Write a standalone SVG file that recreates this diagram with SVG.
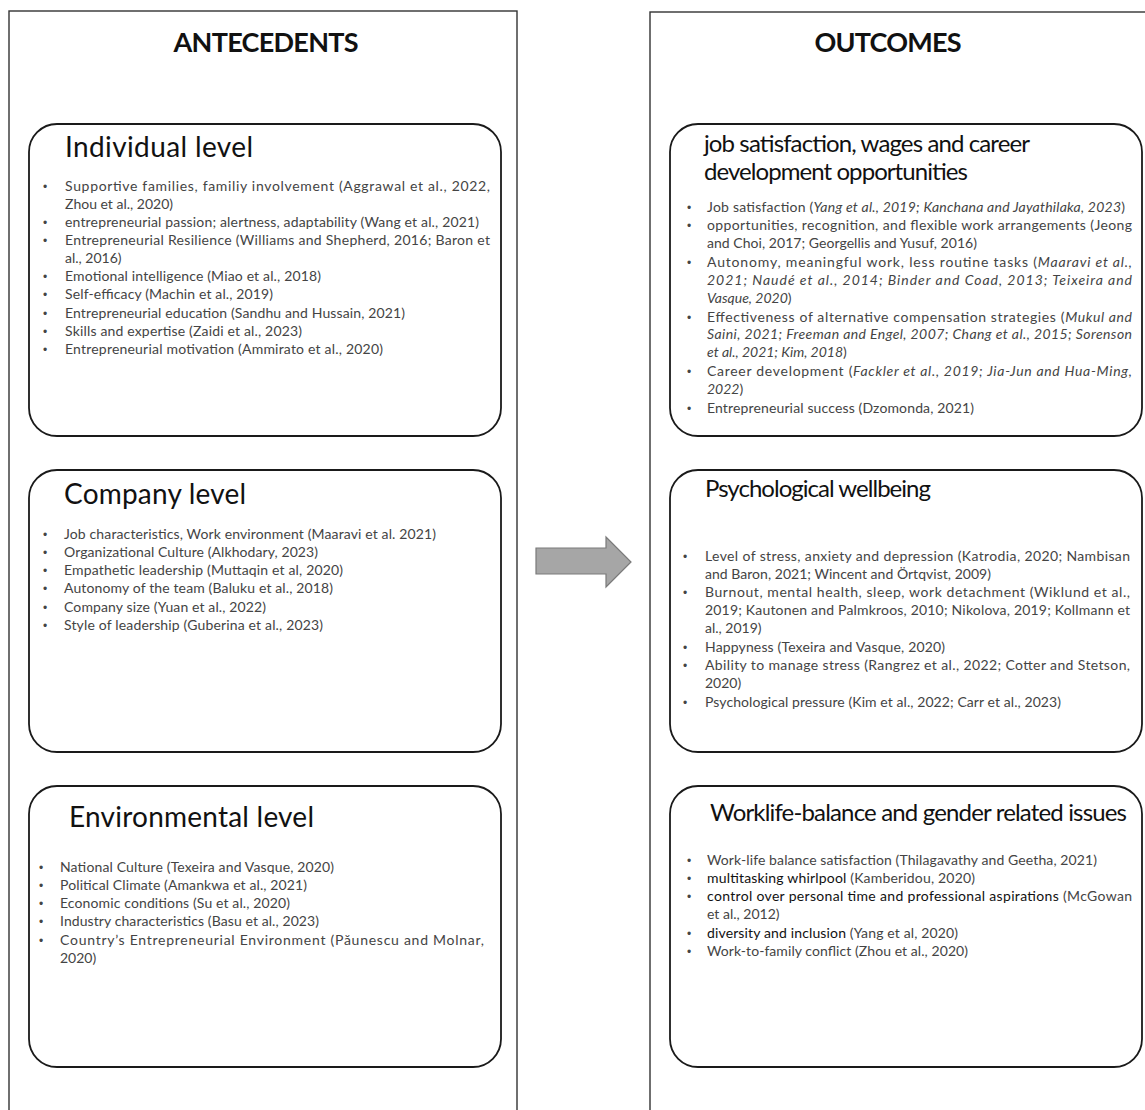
<svg xmlns="http://www.w3.org/2000/svg" width="1145" height="1110" viewBox="0 0 1145 1110">
<style>
.frame{fill:none;stroke:#333;stroke-width:1.4}
.box{fill:#fff;stroke:#1a1a1a;stroke-width:1.8}
.head{font-family:Lato,"Open Sans","Liberation Sans",sans-serif;font-weight:bold;font-size:27px;fill:#111}
.lt{font-family:Lato,"Open Sans","Liberation Sans",sans-serif;font-size:28px;fill:#111}
.rt{font-family:Lato,"Open Sans","Liberation Sans",sans-serif;font-size:24px;fill:#111}
.t{font-family:Lato,"Open Sans","Liberation Sans",sans-serif;font-size:14px;fill:#444}
.b{font-family:"Liberation Sans",sans-serif;font-size:12px;fill:#444}
.i{font-style:italic}
.d{fill:#111}
.arrow{fill:#a6a6a6;stroke:#7a7a7a;stroke-width:1.2}
</style>
<rect width="1145" height="1110" fill="#fff"/>

<g id="antecedents">
<rect class="frame" x="9" y="11" width="508" height="1110"/>
<text class="head" x="266" y="52" text-anchor="middle" textLength="185">ANTECEDENTS</text>
</g>

<g id="outcomes">
<rect class="frame" x="650" y="12" width="510" height="1110"/>
<text class="head" x="888" y="52" text-anchor="middle" textLength="147">OUTCOMES</text>
</g>

<g id="individual-level">
<rect class="box" x="29" y="124" width="472" height="312" rx="28"/>
<text class="lt" x="65" y="157" textLength="188">Individual level</text>
<text class="b" x="43" y="191">•</text><text class="t" x="65" y="191" textLength="425">Supportive families, familiy involvement (Aggrawal et al., 2022,</text>
<text class="t" x="65" y="209">Zhou et al., 2020)</text>
<text class="b" x="43" y="227">•</text><text class="t" x="65" y="227" textLength="414">entrepreneurial passion; alertness, adaptability (Wang et al., 2021)</text>
<text class="b" x="43" y="245">•</text><text class="t" x="65" y="245" textLength="425">Entrepreneurial Resilience (Williams and Shepherd, 2016; Baron et</text>
<text class="t" x="65" y="263">al., 2016)</text>
<text class="b" x="43" y="281">•</text><text class="t" x="65" y="281" textLength="256">Emotional intelligence (Miao et al., 2018)</text>
<text class="b" x="43" y="299">•</text><text class="t" x="65" y="299" textLength="208">Self-efficacy (Machin et al., 2019)</text>
<text class="b" x="43" y="318">•</text><text class="t" x="65" y="318" textLength="340">Entrepreneurial education (Sandhu and Hussain, 2021)</text>
<text class="b" x="43" y="336">•</text><text class="t" x="65" y="336" textLength="237">Skills and expertise (Zaidi et al., 2023)</text>
<text class="b" x="43" y="354">•</text><text class="t" x="65" y="354" textLength="318">Entrepreneurial motivation (Ammirato et al., 2020)</text>
</g>

<g id="company-level">
<rect class="box" x="29" y="470" width="472" height="282" rx="28"/>
<text class="lt" x="64" y="504" textLength="182">Company level</text>
<text class="b" x="43" y="539">•</text><text class="t" x="64" y="539" textLength="372">Job characteristics, Work environment (Maaravi et al. 2021)</text>
<text class="b" x="43" y="557">•</text><text class="t" x="64" y="557" textLength="254">Organizational Culture (Alkhodary, 2023)</text>
<text class="b" x="43" y="575">•</text><text class="t" x="64" y="575" textLength="279">Empathetic leadership (Muttaqin et al, 2020)</text>
<text class="b" x="43" y="593">•</text><text class="t" x="64" y="593" textLength="269">Autonomy of the team (Baluku et al., 2018)</text>
<text class="b" x="43" y="612">•</text><text class="t" x="64" y="612" textLength="202">Company size (Yuan et al., 2022)</text>
<text class="b" x="43" y="630">•</text><text class="t" x="64" y="630" textLength="259">Style of leadership (Guberina et al., 2023)</text>
</g>

<g id="environmental-level">
<rect class="box" x="29" y="786" width="472" height="281" rx="28"/>
<text class="lt" x="69" y="827" textLength="245">Environmental level</text>
<text class="b" x="39" y="872">•</text><text class="t" x="60" y="872" textLength="274">National Culture (Texeira and Vasque, 2020)</text>
<text class="b" x="39" y="890">•</text><text class="t" x="60" y="890" textLength="247">Political Climate (Amankwa et al., 2021)</text>
<text class="b" x="39" y="908">•</text><text class="t" x="60" y="908" textLength="230">Economic conditions (Su et al., 2020)</text>
<text class="b" x="39" y="926">•</text><text class="t" x="60" y="926" textLength="259">Industry characteristics (Basu et al., 2023)</text>
<text class="b" x="39" y="945">•</text><text class="t" x="60" y="945" textLength="424">Country’s Entrepreneurial Environment (Păunescu and Molnar,</text>
<text class="t" x="60" y="963">2020)</text>
</g>

<g id="job-satisfaction">
<rect class="box" x="670" y="124" width="472" height="312" rx="28"/>
<text class="rt" x="704" y="152" textLength="326">job satisfaction, wages and career</text>
<text class="rt" x="704" y="180" textLength="264">development opportunities</text>
<text class="b" x="687" y="212">•</text><text class="t" x="707" y="212" textLength="418">Job satisfaction (<tspan class="i">Yang et al., 2019; Kanchana and Jayathilaka, 2023</tspan>)</text>
<text class="b" x="687" y="230">•</text><text class="t" x="707" y="230" textLength="425">opportunities, recognition, and flexible work arrangements (Jeong</text>
<text class="t" x="707" y="248" textLength="270">and Choi, 2017; Georgellis and Yusuf, 2016)</text>
<text class="b" x="687" y="267">•</text><text class="t" x="707" y="267" textLength="425">Autonomy, meaningful work, less routine tasks (<tspan class="i">Maaravi et al.,</tspan></text>
<text class="t i" x="707" y="285" textLength="425">2021; Naudé et al., 2014; Binder and Coad, 2013; Teixeira and</text>
<text class="t" x="707" y="303"><tspan class="i">Vasque, 2020</tspan>)</text>
<text class="b" x="687" y="322">•</text><text class="t" x="707" y="322" textLength="425">Effectiveness of alternative compensation strategies (<tspan class="i">Mukul and</tspan></text>
<text class="t i" x="707" y="339" textLength="425">Saini, 2021; Freeman and Engel, 2007; Chang et al., 2015; Sorenson</text>
<text class="t" x="707" y="357"><tspan class="i">et al., 2021; Kim, 2018</tspan>)</text>
<text class="b" x="687" y="376">•</text><text class="t" x="707" y="376" textLength="425">Career development (<tspan class="i">Fackler et al., 2019; Jia-Jun and Hua-Ming,</tspan></text>
<text class="t" x="707" y="394"><tspan class="i">2022</tspan>)</text>
<text class="b" x="687" y="413">•</text><text class="t" x="707" y="413" textLength="267">Entrepreneurial success (Dzomonda, 2021)</text>
</g>

<g id="psychological-wellbeing">
<rect class="box" x="670" y="470" width="472" height="282" rx="28"/>
<text class="rt" x="705" y="497" textLength="226">Psychological wellbeing</text>
<text class="b" x="683" y="561">•</text><text class="t" x="705" y="561" textLength="425">Level of stress, anxiety and depression (Katrodia, 2020; Nambisan</text>
<text class="t" x="705" y="579" textLength="286">and Baron, 2021; Wincent and Örtqvist, 2009)</text>
<text class="b" x="683" y="597">•</text><text class="t" x="705" y="597" textLength="425">Burnout, mental health, sleep, work detachment (Wiklund et al.,</text>
<text class="t" x="705" y="615" textLength="425">2019; Kautonen and Palmkroos, 2010; Nikolova, 2019; Kollmann et</text>
<text class="t" x="705" y="633">al., 2019)</text>
<text class="b" x="683" y="652">•</text><text class="t" x="705" y="652" textLength="240">Happyness (Texeira and Vasque, 2020)</text>
<text class="b" x="683" y="670">•</text><text class="t" x="705" y="670" textLength="425">Ability to manage stress (Rangrez et al., 2022; Cotter and Stetson,</text>
<text class="t" x="705" y="688">2020)</text>
<text class="b" x="683" y="707">•</text><text class="t" x="705" y="707" textLength="356">Psychological pressure (Kim et al., 2022; Carr et al., 2023)</text>
</g>

<g id="worklife-balance">
<rect class="box" x="670" y="786" width="472" height="281" rx="28"/>
<text class="rt" x="710" y="821" textLength="417">Worklife-balance and gender related issues</text>
<text class="b" x="687" y="865">•</text><text class="t" x="707" y="865" textLength="390">Work-life balance satisfaction (Thilagavathy and Geetha, 2021)</text>
<text class="b" x="687" y="883">•</text><text class="t" x="707" y="883" textLength="268"><tspan class="d">multitasking whirlpool</tspan> (Kamberidou, 2020)</text>
<text class="b" x="687" y="901">•</text><text class="t" x="707" y="901" textLength="425"><tspan class="d">control over personal time and professional aspirations</tspan> (McGowan</text>
<text class="t" x="707" y="919">et al., 2012)</text>
<text class="b" x="687" y="938">•</text><text class="t" x="707" y="938" textLength="251"><tspan class="d">diversity and inclusion</tspan> (Yang et al, 2020)</text>
<text class="b" x="687" y="956">•</text><text class="t" x="707" y="956" textLength="261">Work-to-family conflict (Zhou et al., 2020)</text>
</g>

<g id="connectors">
<polygon class="arrow" points="536,548 606,548 606,537 631,562 606,587 606,574 536,574"/>
</g>
</svg>
